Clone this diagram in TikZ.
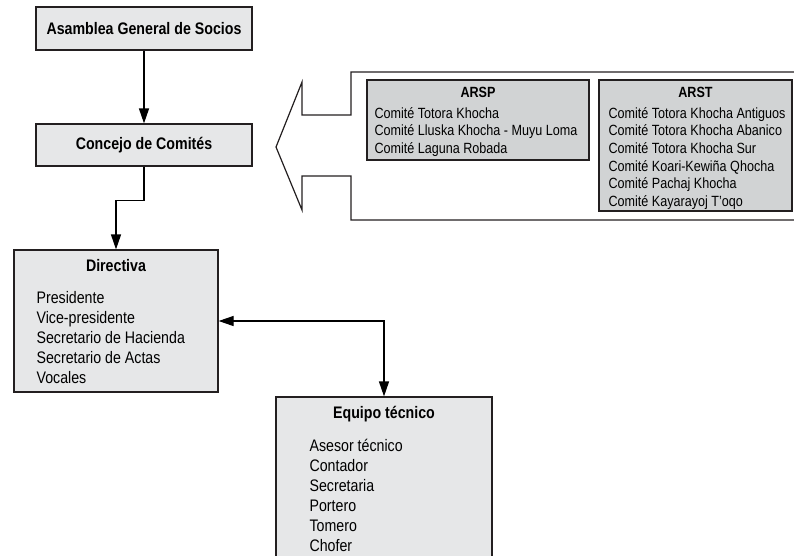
\documentclass[tikz,border=0pt]{standalone}
\usepackage{fontspec}
\setmainfont[FakeStretch=0.85]{Liberation Sans}
\usepackage{tikz}
\usetikzlibrary{arrows.meta}
\definecolor{grisclaro}{HTML}{E6E7E8}
\definecolor{grisoscuro}{HTML}{D1D3D4}
\definecolor{borde}{HTML}{231F20}

\begin{document}
\begin{tikzpicture}[x=1pt,y=-1pt,line width=1.2pt,
  caja/.style={draw=borde,fill=grisclaro,inner sep=0pt},
  comite/.style={draw=borde,fill=grisoscuro,inner sep=0pt},
  titulo/.style={inner sep=0pt,font=\fontsize{16.7}{20}\selectfont\bfseries},
  lista/.style={inner sep=0pt,anchor=north west,align=left,font=\fontsize{16.7}{20}\selectfont},
  titulochico/.style={inner sep=0pt,font=\fontsize{14.8}{17.8}\selectfont\bfseries},
  listachica/.style={inner sep=0pt,anchor=north west,align=left,font=\fontsize{14.8}{17.7}\selectfont},
  flecha/.style={-{Triangle[length=15pt,width=10pt]}}]
\useasboundingbox (0,0) rectangle (794,555);
\node[caja,minimum width=216,minimum height=43,font=\fontsize{16.7}{20}\selectfont\bfseries] (asamblea) at (144,28.5) {Asamblea General de Socios};
\node[caja,minimum width=216,minimum height=42,font=\fontsize{16.7}{20}\selectfont\bfseries] (concejo) at (144,145) {Concejo de Comités};
\node[caja,minimum width=204,minimum height=142] (directiva) at (116,321) {};
\node[titulo] (tdirectiva) at (116,266) {Directiva};
\node[lista] (ldirectiva) at (36,291) {Presidente\\Vice-presidente\\Secretario de Hacienda\\Secretario de Actas\\Vocales};
\node[caja,minimum width=216,minimum height=183] (equipo) at (384,488.5) {};
\node[titulo] (tequipo) at (384,414) {Equipo técnico};
\node[lista] (lequipo) at (309,439) {Asesor técnico\\Contador\\Secretaria\\Portero\\Tomero\\Chofer};
% flecha grande
\draw[draw=borde] (794,72) -- (351,72) -- (351,115) -- (302,115) -- (302,82) -- (276,147)
  -- (302,210) -- (302,176) -- (351,176) -- (351,220) -- (794,220);
\node[comite,minimum width=222,minimum height=80] (arsp) at (478,120) {};
\node[titulochico] (tarsp) at (478,92) {ARSP};
\node[listachica] (larsp) at (374,106.5) {Comité Totora Khocha\\Comité Lluska Khocha - Muyu Loma\\Comité Laguna Robada};
\node[comite,minimum width=193,minimum height=131] (arst) at (695.5,145.5) {};
\node[titulochico] (tarst) at (695.5,92) {ARST};
\node[listachica] (larst) at (608,106.5) {Comité Totora Khocha Antiguos\\Comité Totora Khocha Abanico\\Comité Totora Khocha Sur\\Comité Koari-Kewiña Qhocha\\Comité Pachaj Khocha\\Comité Kayarayoj T'oqo};
% conectores
\draw[flecha] (asamblea) -- (concejo);
\draw[flecha] (concejo.south) -- ++(0,34) -| (directiva.north);
\draw[{Triangle[length=15pt,width=10pt]}-{Triangle[length=15pt,width=10pt]}] (directiva.east) -| (equipo.north);
\end{tikzpicture}
\end{document}
